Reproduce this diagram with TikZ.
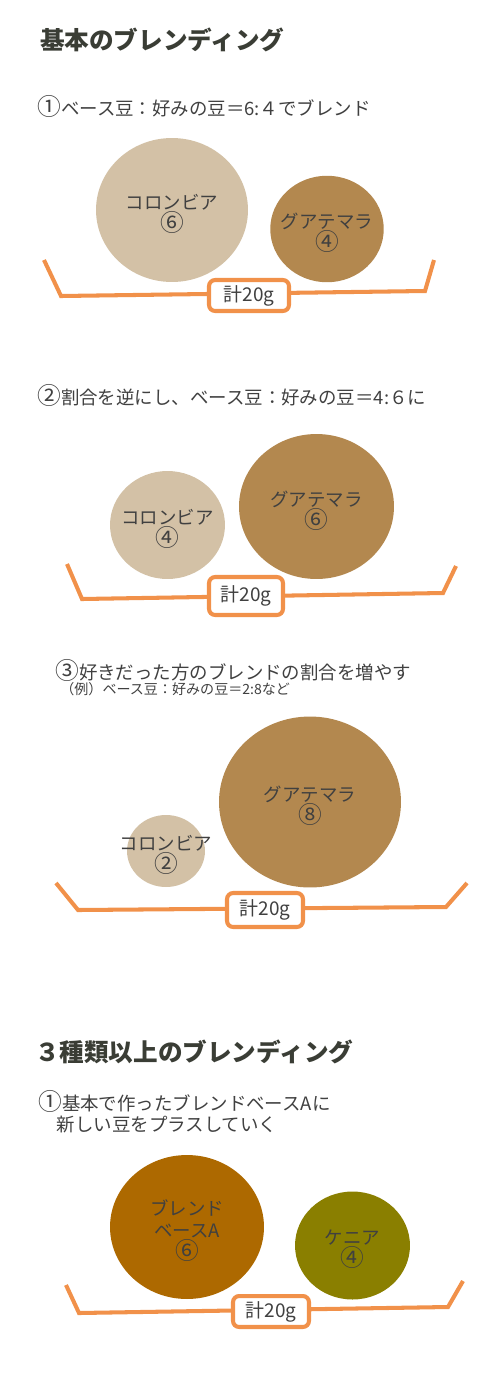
\documentclass[tikz,border=0pt]{standalone}
\usepackage{fontspec}
\setmainfont{Noto Sans CJK JP}
\usetikzlibrary{shapes.geometric}
\definecolor{colombia}{HTML}{D3C1A6}
\definecolor{guatemala}{HTML}{B3884F}
\definecolor{blendbase}{HTML}{AD6900}
\definecolor{kenya}{HTML}{8A7F00}
\definecolor{scaleorange}{HTML}{F1914A}
\definecolor{textgray}{HTML}{404040}
\definecolor{titlegray}{HTML}{3A3D35}
\newcommand{\cnum}[1]{{\fontsize{13.5}{12.5}\selectfont #1}}
\begin{document}
\begin{tikzpicture}[x=0.02cm,y=-0.02cm,
  bean/.style={ellipse,inner sep=0pt},
  beantext/.style={align=center,text=textgray,yshift=-0.08cm,font=\fontsize{10.5}{12.5}\selectfont},
  heading/.style={anchor=west,text=titlegray,font=\bfseries\fontsize{14}{16}\selectfont},
  howto/.style={anchor=west,align=left,text=textgray,inner sep=0pt,font=\fontsize{10.5}{12}\selectfont},
  total/.style={draw=scaleorange,line width=2.3pt,rounded corners=3.5pt,fill=white,text=textgray,inner sep=0pt,font=\fontsize{10.8}{12.5}\selectfont},
  scaleline/.style={draw=scaleorange,line width=2.3pt}]
\useasboundingbox (0,0) rectangle (500,1400);

\node[heading] (title1) at (34,40) {基本のブレンディング};
\node[howto] (howto1) at (37,106) {\cnum{①}ベース豆：好みの豆＝6:４でブレンド};
\node[bean,fill=colombia,minimum width=3.04cm,minimum height=2.88cm,label={[beantext]center:コロンビア\\\cnum{⑥}}] (col1) at (172,210) {};
\node[bean,fill=guatemala,minimum width=2.27cm,minimum height=2.13cm,label={[beantext]center:グアテマラ\\\cnum{④}}] (gua1) at (327,229) {};
\coordinate (s1a) at (44,260);
\coordinate (s1b) at (61,296);
\coordinate (s1c) at (425,291);
\coordinate (s1d) at (434,260);
\draw[scaleline] (s1a) -- (s1b) -- (s1c) -- (s1d);
\node[total,minimum width=1.6cm,minimum height=0.62cm] (sum1) at (249,295.5) {計20g};

\node[howto] (howto2) at (37,395) {\cnum{②}割合を逆にし、ベース豆：好みの豆＝4:６に};
\node[bean,fill=colombia,minimum width=2.3cm,minimum height=2.16cm,label={[beantext]center:コロンビア\\\cnum{④}}] (col2) at (167.5,525) {};
\node[bean,fill=guatemala,minimum width=3.1cm,minimum height=2.9cm,label={[beantext]center:グアテマラ\\\cnum{⑥}}] (gua2) at (316.5,506.5) {};
\coordinate (s2a) at (67,564);
\coordinate (s2b) at (82,599);
\coordinate (s2c) at (443,593);
\coordinate (s2d) at (456,566);
\draw[scaleline] (s2a) -- (s2b) -- (s2c) -- (s2d);
\node[total,minimum width=1.48cm,minimum height=0.76cm] (sum2) at (246,596) {計20g};

\node[howto] (howto3) at (55,670) {\cnum{③}好きだった方のブレンドの割合を増やす};
\node[howto,font=\fontsize{8}{9}\selectfont] (example3) at (60,689) {（例）ベース豆：好みの豆＝2:8など};
\node[bean,fill=guatemala,minimum width=3.64cm,minimum height=3.42cm,label={[beantext]center:グアテマラ\\\cnum{⑧}}] (gua3) at (310,802) {};
\node[bean,fill=colombia,minimum width=1.56cm,minimum height=1.44cm,label={[beantext]center:コロンビア\\\cnum{②}}] (col3) at (166,851) {};
\coordinate (s3a) at (56,883);
\coordinate (s3b) at (78,910);
\coordinate (s3c) at (446,907);
\coordinate (s3d) at (467,883);
\draw[scaleline] (s3a) -- (s3b) -- (s3c) -- (s3d);
\node[total,minimum width=1.52cm,minimum height=0.68cm] (sum3) at (265,910) {計20g};

\node[heading] (title2) at (29,1052) {３種類以上のブレンディング};
\node[howto] (howto4) at (38,1112) {\cnum{①}基本で作ったブレンドベースAに\\\hspace*{1em}新しい豆をプラスしていく};
\node[bean,fill=blendbase,minimum width=3.08cm,minimum height=2.88cm,label={[beantext]center:ブレンド\\ベースA\\\cnum{⑥}}] (base4) at (187,1227) {};
\node[bean,fill=kenya,minimum width=2.3cm,minimum height=2.16cm,label={[beantext]center:ケニア\\\cnum{④}}] (ken4) at (352.5,1245.5) {};
\coordinate (s4a) at (66,1285);
\coordinate (s4b) at (79,1313);
\coordinate (s4c) at (448,1307);
\coordinate (s4d) at (463,1281);
\draw[scaleline] (s4a) -- (s4b) -- (s4c) -- (s4d);
\node[total,minimum width=1.52cm,minimum height=0.62cm] (sum4) at (271,1311.5) {計20g};
\end{tikzpicture}
\end{document}
